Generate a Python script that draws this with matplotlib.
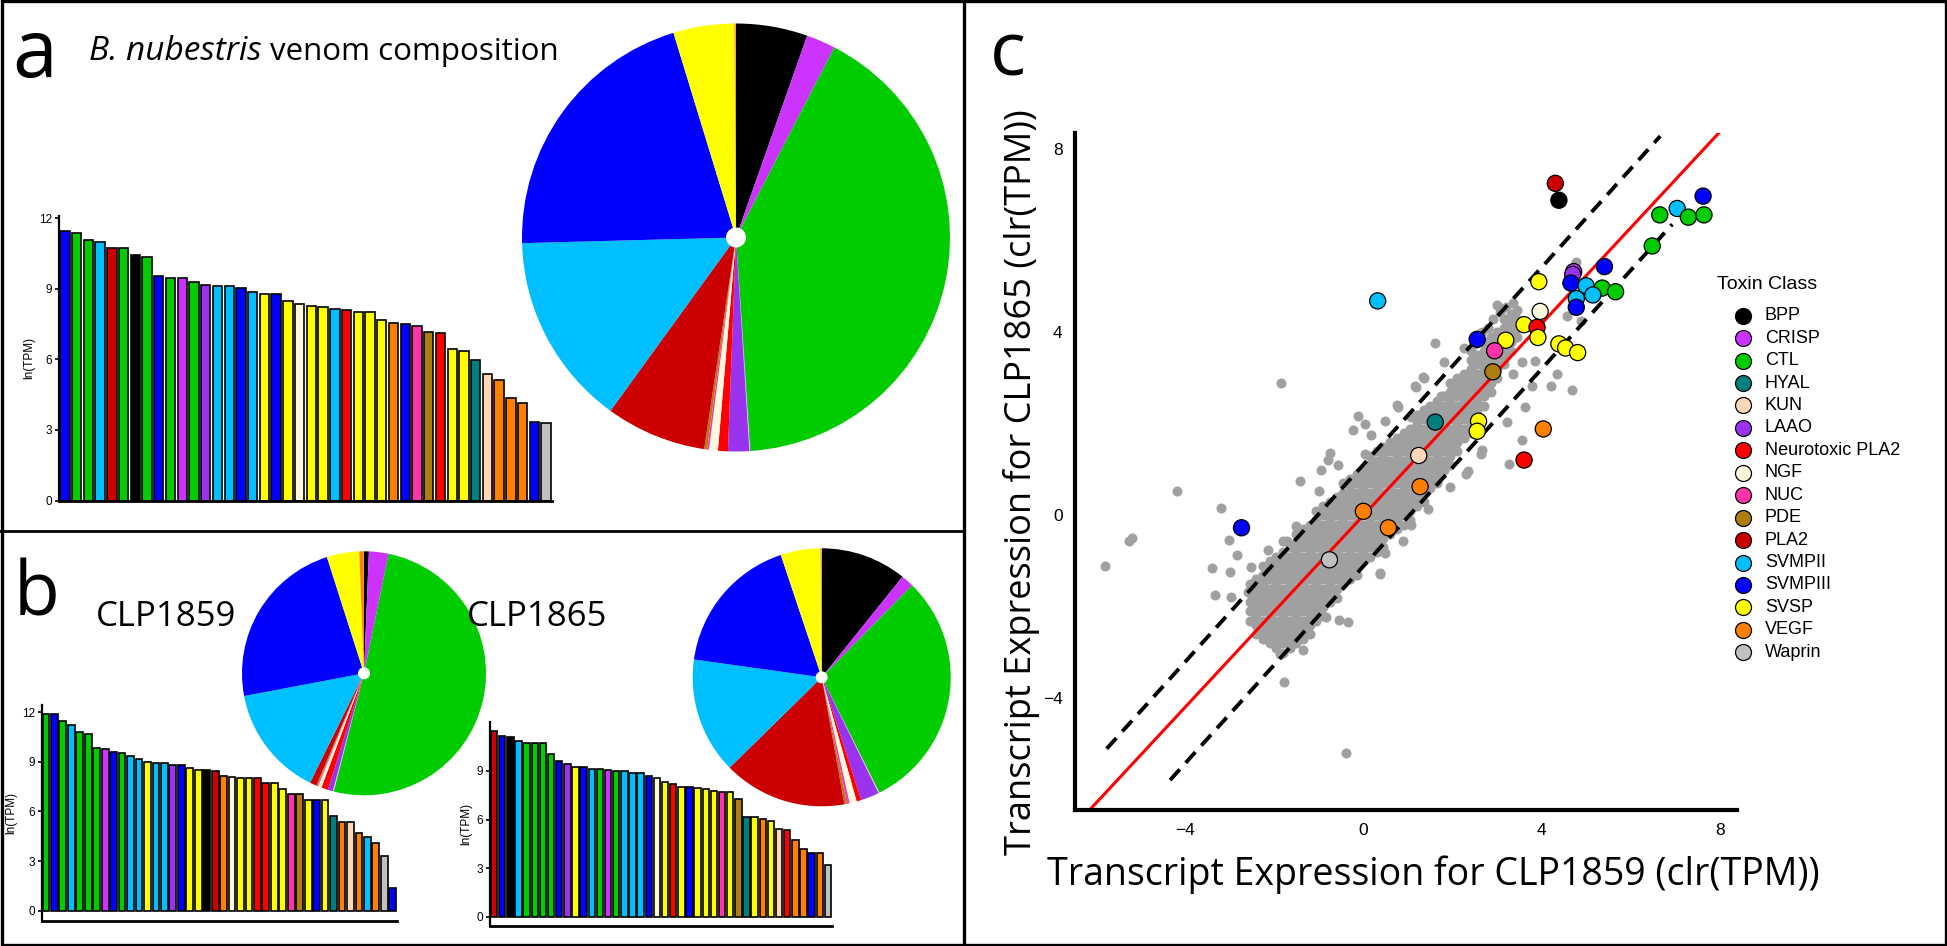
import matplotlib
matplotlib.use("Agg")
import matplotlib.pyplot as plt
from matplotlib.lines import Line2D
from matplotlib.patches import Rectangle, Circle
from matplotlib import font_manager as fm

W, H, DPI = 1947, 946, 100

# ---------------- data ----------------
CLASSES = ["BPP", "CRISP", "CTL", "HYAL", "KUN", "LAAO", "Neurotoxic PLA2", "NGF",
           "NUC", "PDE", "PLA2", "SVMPII", "SVMPIII", "SVSP", "VEGF", "Waprin"]
CLASS_COLORS = ["#000000", "#CC33FF", "#00CC00", "#007F7F", "#FFD7B8", "#9933EE",
                "#FF0000", "#FFF8DC", "#FF33AA", "#B07D10", "#CC0000", "#00BFFF",
                "#0000FF", "#FFFF00", "#FF8000", "#C0C0C0"]

# Panel a: B. nubestris
A_BAR_CLASS = ["SVMPIII", "CTL", "CTL", "SVMPII", "PLA2", "CTL", "BPP", "CTL", "SVMPIII", "CTL",
               "CRISP", "CTL", "LAAO", "SVMPII", "SVMPII", "SVMPIII", "SVMPII", "SVSP", "SVMPIII", "SVSP",
               "NGF", "SVSP", "SVSP", "SVMPII", "Neurotoxic PLA2", "SVSP", "SVSP", "SVSP", "VEGF", "SVMPIII",
               "NUC", "PDE", "Neurotoxic PLA2", "SVSP", "SVSP", "HYAL", "KUN", "VEGF", "VEGF", "VEGF",
               "SVMPIII", "Waprin"]
A_BAR_LNTPM = [11.47, 11.37, 11.09, 11.0, 10.75, 10.72, 10.44, 10.35, 9.53, 9.45,
               9.45, 9.31, 9.17, 9.11, 9.11, 9.02, 8.85, 8.8, 8.77, 8.49,
               8.35, 8.29, 8.23, 8.15, 8.12, 8.03, 8.0, 7.69, 7.55, 7.52,
               7.44, 7.16, 7.13, 6.45, 6.36, 5.97, 5.4, 5.12, 4.36, 4.16,
               3.34, 3.28]
A_PIE_PCT = [5.4, 2.2, 41.3, 0.05, 0.05, 1.6, 0.75, 0.67, 0.14, 0.22, 7.6, 14.6, 20.7, 4.6, 0.1, 0.02]

# Panel b: CLP1859
B1_BAR_CLASS = ["CTL", "SVMPIII", "CTL", "SVMPII", "CTL", "CTL", "CTL", "CRISP", "SVMPIII", "CTL",
                "SVMPII", "SVMPII", "SVSP", "SVMPII", "SVMPII", "LAAO", "SVMPIII", "SVSP", "SVSP", "BPP",
                "PLA2", "VEGF", "NGF", "SVSP", "SVSP", "Neurotoxic PLA2", "Neurotoxic PLA2", "SVSP", "SVSP", "NUC",
                "PDE", "SVSP", "SVMPIII", "SVSP", "HYAL", "VEGF", "KUN", "VEGF", "SVMPII", "VEGF",
                "Waprin", "SVMPIII"]
B1_BAR_LNTPM = [11.86, 11.86, 11.46, 11.21, 10.81, 10.69, 9.85, 9.76, 9.6, 9.52,
                9.32, 9.16, 8.96, 8.92, 8.92, 8.8, 8.8, 8.64, 8.52, 8.52,
                8.44, 8.15, 8.07, 8.03, 8.03, 7.99, 7.71, 7.71, 7.35, 7.03,
                7.03, 6.7, 6.7, 6.7, 5.74, 5.38, 5.34, 4.69, 4.45, 4.09,
                3.32, 1.35]
B1_PIE_PCT = [0.64, 2.6, 50.8, 0.05, 0.1, 0.67, 0.9, 0.45, 0.12, 0.14, 0.9, 14.75, 23.1, 4.3, 0.6, 0.02]

# Panel b: CLP1865
B2_BAR_CLASS = ["PLA2", "SVMPIII", "BPP", "SVMPII", "CTL", "CTL", "CTL", "CTL", "SVMPIII", "LAAO",
                "SVSP", "SVMPIII", "SVMPII", "CTL", "CRISP", "CTL", "SVMPII", "SVMPII", "SVMPII", "SVMPIII",
                "NGF", "SVSP", "Neurotoxic PLA2", "SVSP", "SVMPIII", "SVSP", "SVSP", "SVSP", "NUC", "SVSP",
                "PDE", "HYAL", "SVSP", "VEGF", "SVSP", "KUN", "Neurotoxic PLA2", "VEGF", "VEGF", "SVMPIII",
                "VEGF", "Waprin"]
B2_BAR_LNTPM = [11.45, 11.16, 11.08, 10.87, 10.71, 10.71, 10.71, 10.05, 9.6, 9.43,
                9.23, 9.23, 9.14, 9.1, 9.06, 9.02, 8.98, 8.9, 8.86, 8.69,
                8.57, 8.32, 8.2, 8.03, 7.99, 7.95, 7.87, 7.78, 7.7, 7.7,
                7.29, 6.18, 6.14, 6.01, 5.93, 5.44, 5.35, 4.74, 4.16, 3.95,
                3.91, 3.21]
B2_PIE_PCT = [10.8, 1.6, 30.3, 0.05, 0.1, 2.3, 0.6, 0.9, 0.33, 0.33, 15.5, 14.6, 17.7, 5.0, 0.1, 0.05]

# Panel c: toxin transcripts
SC_CLASS = ["PLA2", "BPP", "SVMPIII", "SVMPII", "CTL", "CTL", "CTL", "CTL", "SVMPIII", "CRISP",
            "LAAO", "SVSP", "SVMPIII", "SVMPII", "CTL", "CTL", "SVMPII", "SVMPII", "SVMPIII", "SVMPII",
            "NGF", "SVSP", "Neurotoxic PLA2", "SVSP", "SVSP", "SVMPIII", "NUC", "SVSP", "SVSP", "SVSP",
            "PDE", "HYAL", "SVSP", "SVSP", "VEGF", "Neurotoxic PLA2", "KUN", "VEGF", "VEGF", "VEGF",
            "SVMPIII", "Waprin"]
SC_X = [4.30, 4.38, 7.61, 7.03, 6.64, 7.28, 7.63, 6.47, 5.40, 4.71,
        4.69, 3.93, 4.65, 4.99, 5.35, 5.65, 5.14, 4.77, 4.77, 0.32,
        3.96, 3.60, 3.89, 3.91, 3.19, 2.55, 2.94, 4.38, 4.53, 4.80,
        2.90, 1.61, 2.58, 2.55, 4.03, 3.60, 1.24, 1.27, 0.00, 0.56,
        -2.73, -0.76]
SC_Y = [7.26, 6.89, 6.98, 6.71, 6.57, 6.52, 6.57, 5.89, 5.44, 5.33,
        5.27, 5.11, 5.08, 5.02, 4.97, 4.89, 4.82, 4.74, 4.55, 4.69,
        4.46, 4.17, 4.11, 3.89, 3.83, 3.85, 3.60, 3.75, 3.66, 3.56,
        3.14, 2.04, 2.06, 1.84, 1.89, 1.21, 1.31, 0.63, 0.09, -0.27,
        -0.27, -0.97]

# all other transcripts (grey cloud), dense core read column by column
GRAY_BAND = [
    (-2.55, [-2.3, -2.1, -1.9, -1.7, -1.5]),
    (-2.40, [-2.6, -2.4, -2.2, -2.0, -1.8, -1.6, -1.4]),
    (-2.25, [-2.7, -2.5, -2.3, -2.1, -1.9, -1.7, -1.5, -1.3, -1.1]),
    (-2.10, [-2.8, -2.6, -2.4, -2.2, -2.0, -1.8, -1.6, -1.4, -1.2, -1.0]),
    (-1.95, [-2.9, -2.7, -2.5, -2.3, -2.1, -1.9, -1.7, -1.5, -1.3, -1.1, -0.9]),
    (-1.80, [-3.0, -2.8, -2.6, -2.4, -2.2, -2.0, -1.8, -1.6, -1.4, -1.2, -1.0, -0.8]),
    (-1.65, [-2.9, -2.7, -2.5, -2.3, -2.1, -1.9, -1.7, -1.5, -1.3, -1.1, -0.9, -0.7]),
    (-1.50, [-2.8, -2.6, -2.4, -2.2, -2.0, -1.8, -1.6, -1.4, -1.2, -1.0, -0.8, -0.6, -0.4]),
    (-1.35, [-2.7, -2.5, -2.3, -2.1, -1.9, -1.7, -1.5, -1.3, -1.1, -0.9, -0.7, -0.5, -0.3]),
    (-1.20, [-2.6, -2.4, -2.2, -2.0, -1.8, -1.6, -1.4, -1.2, -1.0, -0.8, -0.6, -0.4, -0.2]),
    (-1.05, [-2.3, -2.1, -1.9, -1.7, -1.5, -1.3, -1.1, -0.9, -0.7, -0.5, -0.3, -0.1, 0.1]),
    (-0.90, [-2.2, -2.0, -1.8, -1.6, -1.4, -1.2, -1.0, -0.8, -0.6, -0.4, -0.2, 0.0, 0.2]),
    (-0.75, [-1.9, -1.7, -1.5, -1.3, -1.1, -0.9, -0.7, -0.5, -0.3, -0.1, 0.1, 0.3]),
    (-0.60, [-1.8, -1.6, -1.4, -1.2, -1.0, -0.8, -0.6, -0.4, -0.2, 0.0, 0.2, 0.4]),
    (-0.45, [-1.5, -1.3, -1.1, -0.9, -0.7, -0.5, -0.3, -0.1, 0.1, 0.3, 0.5, 0.7]),
    (-0.30, [-1.4, -1.2, -1.0, -0.8, -0.6, -0.4, -0.2, 0.0, 0.2, 0.4, 0.6, 0.8]),
    (-0.15, [-1.3, -1.1, -0.9, -0.7, -0.5, -0.3, -0.1, 0.1, 0.3, 0.5, 0.7, 0.9]),
    (0.00, [-1.0, -0.8, -0.6, -0.4, -0.2, 0.0, 0.2, 0.4, 0.6, 0.8, 1.0]),
    (0.15, [-0.9, -0.7, -0.5, -0.3, -0.1, 0.1, 0.3, 0.5, 0.7, 0.9, 1.1, 1.3]),
    (0.30, [-0.8, -0.6, -0.4, -0.2, 0.0, 0.2, 0.4, 0.6, 0.8, 1.0, 1.2, 1.4]),
    (0.45, [-0.7, -0.5, -0.3, -0.1, 0.1, 0.3, 0.5, 0.7, 0.9, 1.1, 1.3, 1.5]),
    (0.60, [-0.4, -0.2, 0.0, 0.2, 0.4, 0.6, 0.8, 1.0, 1.2, 1.4, 1.6]),
    (0.75, [-0.3, -0.1, 0.1, 0.3, 0.5, 0.7, 0.9, 1.1, 1.3, 1.5, 1.7]),
    (0.90, [-0.2, 0.0, 0.2, 0.4, 0.6, 0.8, 1.0, 1.2, 1.4, 1.6, 1.8]),
    (1.05, [-0.1, 0.1, 0.3, 0.5, 0.7, 0.9, 1.1, 1.3, 1.5, 1.7, 1.9]),
    (1.20, [0.2, 0.4, 0.6, 0.8, 1.0, 1.2, 1.4, 1.6, 1.8, 2.0, 2.2]),
    (1.35, [0.3, 0.5, 0.7, 0.9, 1.1, 1.3, 1.5, 1.7, 1.9, 2.1, 2.3]),
    (1.50, [0.6, 0.8, 1.0, 1.2, 1.4, 1.6, 1.8, 2.0, 2.2, 2.4]),
    (1.65, [0.7, 0.9, 1.1, 1.3, 1.5, 1.7, 1.9, 2.1, 2.3, 2.5]),
    (1.80, [1.0, 1.2, 1.4, 1.6, 1.8, 2.0, 2.2, 2.4, 2.6]),
    (1.95, [1.1, 1.3, 1.5, 1.7, 1.9, 2.1, 2.3, 2.5, 2.7, 2.9]),
    (2.10, [1.4, 1.6, 1.8, 2.0, 2.2, 2.4, 2.6, 2.8, 3.0]),
    (2.25, [1.7, 1.9, 2.1, 2.3, 2.5, 2.7, 2.9, 3.1]),
    (2.40, [1.8, 2.0, 2.2, 2.4, 2.6, 2.8, 3.0, 3.2, 3.4]),
    (2.55, [2.1, 2.3, 2.5, 2.7, 2.9, 3.1, 3.3, 3.5]),
    (2.70, [2.4, 2.6, 2.8, 3.0, 3.2, 3.4, 3.6, 3.8]),
    (2.85, [2.7, 2.9, 3.1, 3.3, 3.5, 3.7, 3.9]),
    (3.00, [3.0, 3.2, 3.4, 3.6, 3.8, 4.0]),
    (3.15, [3.3, 3.5, 3.7, 3.9, 4.1, 4.3]),
    (3.30, [3.6, 3.8, 4.0, 4.2, 4.4]),
    (3.45, [3.9, 4.1, 4.3, 4.5]),
]
GRAY_OUT_X = [1.61, 1.81, -1.84, 1.35, 1.17, 1.74, 0.77, -0.12, 0.04, 0.49,
              -0.24, 0.16, -0.75, -0.79, -0.57, -0.96, -1.43, -0.99, 0.04, -4.17,
              -3.18, -5.18, -5.26, -5.79, -3.00, -2.84, -3.39, -2.99, -2.51, -3.32,
              -2.96, -2.58, -1.50, -1.70, -1.80, -2.14, 0.38, 0.49, 1.45, 1.07,
              0.88, 1.95, 2.29, 2.34, 2.66, 2.63, 3.26, 3.55, 3.21, 3.63,
              3.78, 3.36, 3.55, 3.84, 4.33, 4.21, 4.67, 4.57, 4.87, 4.77,
              2.26, 1.34, 1.15, 0.76, 1.07, -2.38, -2.19, -1.87, -1.36, -1.77,
              -0.83, -0.54, -0.34, -0.39, 0.37, 2.90, 3.05, 3.20, 3.35, 2.40,
              2.50, 2.65, 2.80, 3.00]
GRAY_OUT_Y = [3.77, 3.35, 2.90, 3.00, 2.80, 2.62, 2.36, 2.17, 1.99, 2.06,
              1.86, 1.76, 1.37, 1.21, 1.10, 0.99, 0.75, 0.54, 1.34, 0.53,
              0.16, -0.49, -0.56, -1.10, -0.54, -0.86, -1.16, -1.23, -1.12, -1.74,
              -1.79, -1.67, -0.23, -0.57, -0.55, -0.76, -1.29, -0.83, 0.14, -0.22,
              -0.55, 0.62, 0.91, 0.98, 1.44, 1.35, 1.13, 1.65, 2.04, 2.36,
              2.84, 3.09, 3.35, 3.38, 3.09, 2.84, 2.74, 4.36, 4.24, 5.53,
              3.67, 3.02, 2.84, 2.42, 2.15, -2.29, -2.69, -3.02, -2.95, -3.65,
              -2.22, -2.29, -2.33, -5.20, -1.26, 4.30, 4.45, 4.55, 4.65, 3.60,
              3.75, 4.00, 4.10, 4.60]

FIT_SLOPE = 1.05
DASH_SLOPE = 1.08
DASH_BAND = 1.11
UPPER_DASH_X = [-5.75, 6.65]
LOWER_DASH_X = [-4.33, 6.92]

# ---------------- drawing ----------------
COLOR = dict(zip(CLASSES, CLASS_COLORS))
plt.rcParams["font.family"] = ["Liberation Sans", "DejaVu Sans"]
fig = plt.figure(figsize=(W / DPI, H / DPI), dpi=DPI)
fig.patch.set_facecolor("white")
TITLE_FONT = ["Open Sans", "DejaVu Sans"]


def italic_family():
    for fam in ["Open Sans", "Lato", "Noto Sans", "Roboto", "DejaVu Sans"]:
        try:
            path = fm.findfont(fm.FontProperties(family=fam, style="italic"), fallback_to_default=False)
        except Exception:
            continue
        low = path.lower()
        if ("italic" in low or "oblique" in low) and fam.replace(" ", "").lower() in low.replace(" ", "").replace("-", "").replace("_", ""):
            return fam
    return "DejaVu Sans"


def px_axes(l, t, r, b):
    return fig.add_axes([l / W, 1 - b / H, (r - l) / W, (b - t) / H])


def fxy(x, y):
    return x / W, 1 - y / H


def bar_panel(box, classes, vals, ylim, yticks):
    ax = px_axes(*box)
    xs = list(range(len(vals)))
    ax.bar(xs, vals, width=0.8, color=[COLOR[c] for c in classes],
           edgecolor="black", linewidth=1.2, zorder=2)
    ax.set_xlim(-0.5, len(vals) - 0.5)
    ax.set_ylim(*ylim)
    ax.set_yticks(yticks)
    ax.set_xticks([])
    for s in ("top", "right"):
        ax.spines[s].set_visible(False)
    ax.spines["left"].set_linewidth(1.6)
    ax.spines["bottom"].set_linewidth(2.0)
    ax.tick_params(axis="y", length=3, width=1.2, labelsize=8.5, pad=2)
    ax.set_ylabel("ln(TPM)", fontsize=8.5, labelpad=3)
    ax.patch.set_alpha(0)
    return ax


def pie_panel(cx, cy, r, pct, dot_r):
    ax = px_axes(cx - r, cy - r, cx + r, cy + r)
    ax.pie(pct, colors=CLASS_COLORS, startangle=90, counterclock=False,
           wedgeprops=dict(linewidth=0))
    ax.set_xlim(-1, 1)
    ax.set_ylim(-1, 1)
    ax.add_patch(Circle((0, 0), dot_r / r, facecolor="white", edgecolor="none", zorder=5))
    return ax


# panel a
bar_panel((59, 216, 552, 500.5), A_BAR_CLASS, A_BAR_LNTPM, (0, 12.1), [0, 3, 6, 9, 12])
pie_panel(736, 237.5, 214, A_PIE_PCT, 10)

# panel b
bar_panel((41.7, 705.4, 397, 920.6), B1_BAR_CLASS, B1_BAR_LNTPM, (-0.6, 12.4), [0, 3, 6, 9, 12])
bar_panel((490, 721.6, 832, 925.8), B2_BAR_CLASS, B2_BAR_LNTPM, (-0.56, 12.05), [0, 3, 6, 9])
pie_panel(364, 673.3, 122, B1_PIE_PCT, 6)
pie_panel(821.7, 677.3, 129, B2_PIE_PCT, 6)

# panel c
ax = px_axes(1075, 133, 1737, 810)
gx, gy = [], []
for x, ys in GRAY_BAND:
    gx += [x] * len(ys)
    gy += ys
gx += GRAY_OUT_X
gy += GRAY_OUT_Y
ax.scatter(gx, gy, s=52, color="#A0A0A0", linewidths=0, zorder=1)
ax.axline((0, 0), slope=FIT_SLOPE, color="#FF0000", lw=2.2, zorder=2)
ax.plot(UPPER_DASH_X, [DASH_SLOPE * v + DASH_BAND for v in UPPER_DASH_X],
        color="black", lw=2.8, dashes=(3.7, 2.3), zorder=2)
ax.plot(LOWER_DASH_X, [DASH_SLOPE * v - DASH_BAND for v in LOWER_DASH_X],
        color="black", lw=2.8, dashes=(3.7, 2.3), zorder=2)
ax.scatter(SC_X, SC_Y, s=135, c=[COLOR[c] for c in SC_CLASS],
           edgecolors="black", linewidths=0.9, zorder=3)
ax.set_xlim(-6.46, 8.37)
ax.set_ylim(-6.44, 8.36)
ax.set_xticks([-4, 0, 4, 8])
ax.set_yticks([-4, 0, 4, 8])
ax.tick_params(length=0, pad=9, labelsize=12.5)
for s in ("top", "right"):
    ax.spines[s].set_visible(False)
for s in ("left", "bottom"):
    ax.spines[s].set_linewidth(3.0)

fig.text(*fxy(1433, 875), "Transcript Expression for CLP1859 (clr(TPM))",
         family=TITLE_FONT, fontsize=27, ha="center", va="center")
fig.text(*fxy(1021, 482), "Transcript Expression for CLP1865 (clr(TPM))",
         family=TITLE_FONT, fontsize=26, ha="center", va="center", rotation=90)

# legend
LEG_DX = -17
fig.text(*fxy(1717, 284), "Toxin Class", fontsize=14, ha="left", va="center")
for i, (cls, col) in enumerate(zip(CLASSES, CLASS_COLORS)):
    yy = 315.7 + 22.44 * i
    fig.add_artist(Line2D([(1760 + LEG_DX) / W], [1 - yy / H], marker="o", markersize=11.5,
                          markerfacecolor=col, markeredgecolor="black", markeredgewidth=0.9,
                          linestyle="none", transform=fig.transFigure))
    fig.text(*fxy(1782 + LEG_DX, yy), cls, fontsize=13, ha="left", va="center")

# panel letters and titles
fig.text(*fxy(35, 56), "a", family=TITLE_FONT, fontsize=58, ha="center", va="center")
t_it = fig.text(*fxy(89, 52), "B. nubestris", family=[italic_family(), "DejaVu Sans"], style="italic",
                fontsize=24, ha="left", va="center")
fig.canvas.draw()
x_end = t_it.get_window_extent(renderer=fig.canvas.get_renderer()).x1
fig.text((x_end + 8) / W, 1 - 52 / H, "venom composition", family=TITLE_FONT,
         fontsize=22.5, ha="left", va="center")
fig.text(*fxy(37, 596), "b", family=TITLE_FONT, fontsize=54, ha="center", va="center")
fig.text(*fxy(166, 617), "CLP1859", family=TITLE_FONT, fontsize=25, ha="center", va="center")
fig.text(*fxy(537, 617), "CLP1865", family=TITLE_FONT, fontsize=25, ha="center", va="center")
fig.text(*fxy(1008, 56), "c", family=TITLE_FONT, fontsize=54, ha="center", va="center")

# panel frames
fig.add_artist(Rectangle((1.5 / W, 1.5 / H), 1 - 3 / W, 1 - 3 / H, transform=fig.transFigure,
                         fill=False, edgecolor="black", linewidth=2.4))
fig.add_artist(Line2D([964 / W, 964 / W], [0, 1], transform=fig.transFigure, color="black", lw=2.4))
fig.add_artist(Line2D([0, 964 / W], [1 - 531 / H, 1 - 531 / H], transform=fig.transFigure,
                      color="black", lw=2.0))

fig.savefig("out.png", dpi=DPI, facecolor="white")
